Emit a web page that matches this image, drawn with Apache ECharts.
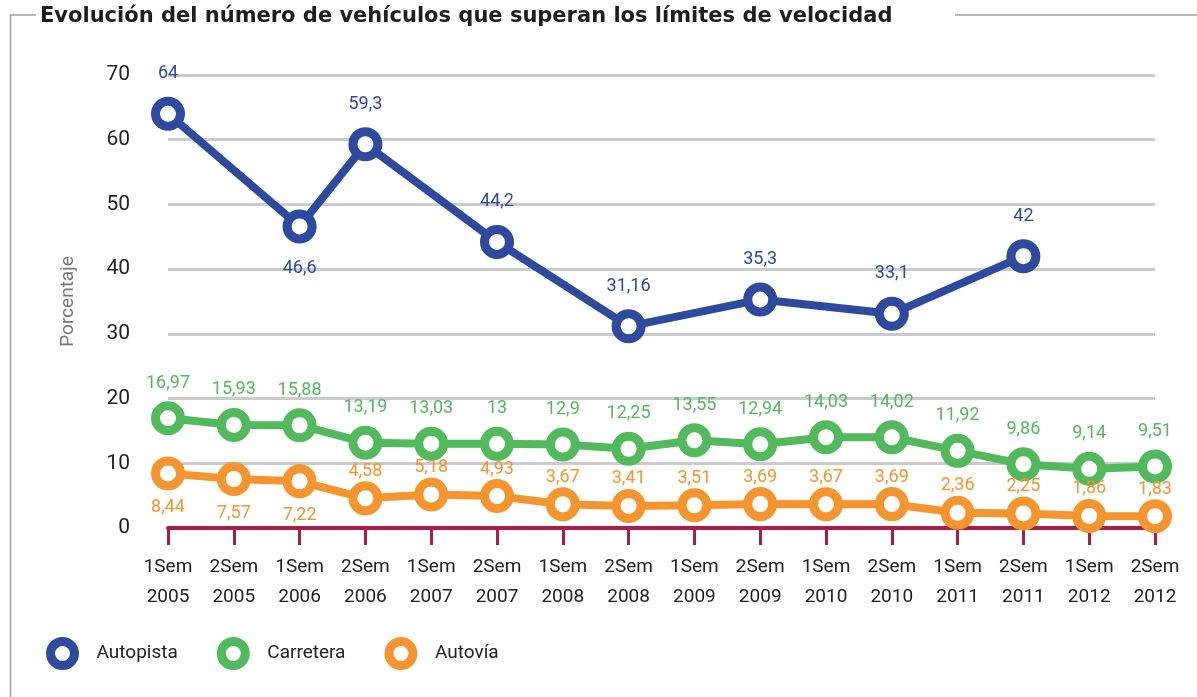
<!DOCTYPE html>
<html>
<head>
<meta charset="utf-8">
<script src="https://cdn.jsdelivr.net/npm/echarts@6/dist/echarts.min.js"></script>
<style>
html,body{margin:0;padding:0;background:#fff;}
#chart{width:1197px;height:697px;}
</style>
</head>
<body>
<div id="chart"></div>
<script>
const categories = ['1Sem\n2005','2Sem\n2005','1Sem\n2006','2Sem\n2006','1Sem\n2007','2Sem\n2007','1Sem\n2008','2Sem\n2008','1Sem\n2009','2Sem\n2009','1Sem\n2010','2Sem\n2010','1Sem\n2011','2Sem\n2011','1Sem\n2012','2Sem\n2012'];
const autopista = [64, null, 46.6, 59.3, null, 44.2, null, 31.16, null, 35.3, null, 33.1, null, 42, null, null];
const carretera = [16.97, 15.93, 15.88, 13.19, 13.03, 13, 12.9, 12.25, 13.55, 12.94, 14.03, 14.02, 11.92, 9.86, 9.14, 9.51];
const autovia = [8.44, 7.57, 7.22, 4.58, 5.18, 4.93, 3.67, 3.41, 3.51, 3.69, 3.67, 3.69, 2.36, 2.25, 1.86, 1.83];
const yTicks = [0, 10, 20, 30, 40, 50, 60, 70];
const seriesNames = ['Autopista', 'Carretera', 'Autovía'];

const FONT = "Roboto, 'DejaVu Sans Condensed', sans-serif";
const COLORS = ['#2D4A9F', '#52B95C', '#F5952F'];

const fmt = v => String(v).replace('.', ',');

// label placement styling: which points get their label below the marker
const belowIdx = { 'Autopista': [2], 'Carretera': [], 'Autovía': [0, 1, 2] };
const distTop = { 'Autopista': 14, 'Carretera': 9, 'Autovía': 1 };
const distBottom = { 'Autopista': 16, 'Carretera': 10, 'Autovía': 8 };

function buildData(name, arr) {
  return arr.map((v, i) => {
    if (v === null) return null;
    const below = belowIdx[name].includes(i);
    return {
      value: v,
      label: { position: below ? 'bottom' : 'top', distance: below ? distBottom[name] : distTop[name] }
    };
  });
}

function mkSeries(name, arr, idx, z) {
  return {
    name: name,
    type: 'line',
    data: buildData(name, arr),
    connectNulls: true,
    symbol: 'circle',
    symbolSize: 25,
    z: z,
    lineStyle: { color: COLORS[idx], width: 8 },
    itemStyle: { color: '#fff', borderColor: COLORS[idx], borderWidth: 9 },
    label: {
      show: true,
      color: COLORS[idx],
      fontFamily: FONT,
      fontSize: 18,
      formatter: p => fmt(p.value)
    },
    emphasis: { disabled: true }
  };
}

const chart = echarts.init(document.getElementById('chart'), null, { renderer: 'canvas' });
chart.setOption({
  animation: false,
  backgroundColor: '#fff',
  textStyle: { fontFamily: FONT },
  title: {
    text: 'Evolución del número de vehículos que superan los límites de velocidad',
    left: 35, top: 1,
    textStyle: { fontFamily: "'DejaVu Sans', sans-serif", fontSize: 21, fontWeight: 'bold', color: '#1e1e1e' }
  },
  graphic: [
    { type: 'polyline', shape: { points: [[36, 15], [10.5, 15], [10.5, 697]] }, style: { stroke: '#9ca0a5', lineWidth: 1.5, fill: null } },
    { type: 'line', shape: { x1: 955, y1: 15, x2: 1197, y2: 15 }, style: { stroke: '#9ca0a5', lineWidth: 1.5 } }
  ],
  grid: { left: 168, right: 42, top: 75, bottom: 169 },
  legend: {
    left: 46, top: 637,
    padding: 0,
    icon: 'circle',
    itemWidth: 24, itemHeight: 24,
    itemGap: 39,
    textStyle: { fontFamily: FONT, fontSize: 19, color: '#222', padding: [0, 0, 0, 17] },
    data: seriesNames.map((n, i) => ({ name: n, itemStyle: { color: '#fff', borderColor: COLORS[i], borderWidth: 9 } }))
  },
  xAxis: {
    type: 'category',
    data: categories,
    boundaryGap: false,
    axisLine: { lineStyle: { color: '#A91D46', width: 4 } },
    axisTick: { show: true, length: 17, lineStyle: { color: '#A91D46', width: 3 } },
    axisLabel: { color: '#222', fontSize: 19, lineHeight: 30, margin: 24, interval: 0 },
    splitLine: { show: false }
  },
  yAxis: {
    type: 'value',
    min: yTicks[0], max: yTicks[yTicks.length - 1], interval: 10,
    name: 'Porcentaje',
    nameLocation: 'middle',
    nameGap: 90,
    nameTextStyle: { color: '#777', fontSize: 19, fontFamily: FONT },
    axisLine: { show: false },
    axisTick: { show: false },
    axisLabel: { color: '#222', fontSize: 21, margin: 38 },
    splitLine: { lineStyle: { color: '#C9CBCE', width: 3 } }
  },
  series: [
    mkSeries('Autopista', autopista, 0, 3),
    mkSeries('Carretera', carretera, 1, 2),
    mkSeries('Autovía', autovia, 2, 4)
  ]
});
</script>
</body>
</html>
